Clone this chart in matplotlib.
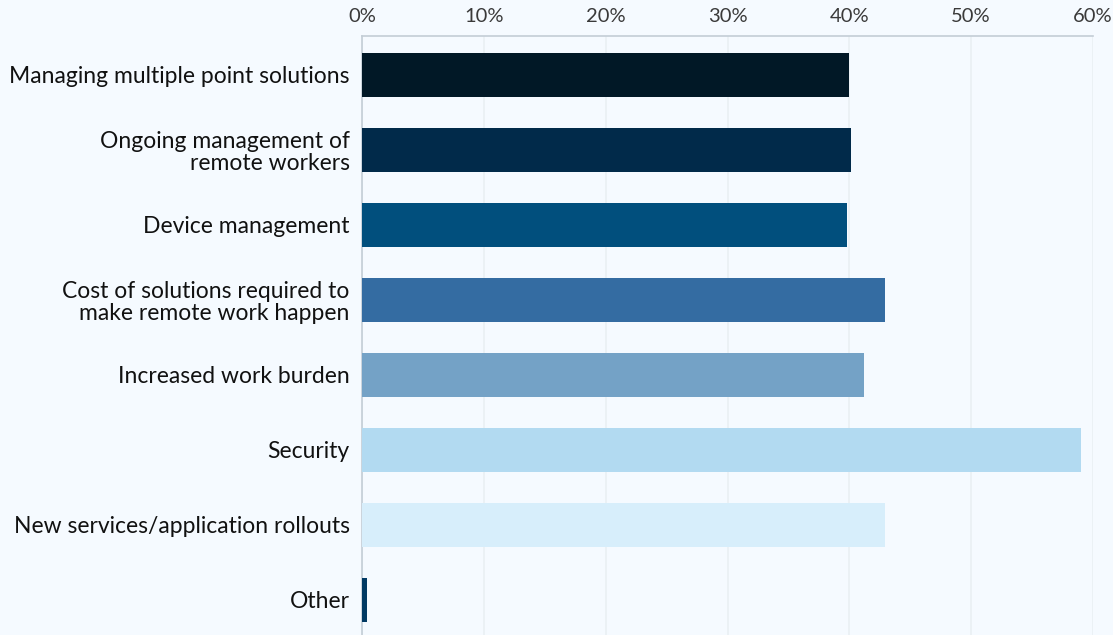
import numpy as np
import matplotlib.pyplot as plt
from matplotlib.ticker import FuncFormatter

# survey responses, share of respondents (%)
categories = [
    "Managing multiple point solutions",
    "Ongoing management of\nremote workers",
    "Device management",
    "Cost of solutions required to\nmake remote work happen",
    "Increased work burden",
    "Security",
    "New services/application rollouts",
    "Other",
]
values = [40.0, 40.1, 39.8, 42.9, 41.2, 59.0, 42.9, 0.4]
colors = ["#011826", "#012a4a", "#014f7d", "#346ca2", "#74a2c6",
          "#b2daf1", "#d7eefb", "#013a63"]

bg = "#f5faff"
plt.rcParams['font.family'] = ['Lato', 'DejaVu Sans']

fig = plt.figure(figsize=(11.13, 6.35), dpi=100, facecolor=bg)
ax = fig.add_axes([362 / 1113, 0, 731 / 1113, 1 - 36 / 635])
ax.set_facecolor(bg)

y = np.arange(len(categories))
ax.barh(y, values, height=0.59, color=colors, zorder=3)

ax.set_xlim(0, 60)
ax.set_ylim(7.47, -0.52)
ax.set_xticks(np.arange(0, 61, 10))
ax.xaxis.set_major_formatter(FuncFormatter(lambda v, p: f"{v:.0f}%"))
ax.xaxis.tick_top()
ax.tick_params(axis='x', length=0, pad=8, labelsize=14.5, labelcolor="#3a3a3a")
ax.set_yticks(y)
ax.set_yticklabels(categories, fontsize=16.5, color="#111111")
ax.tick_params(axis='y', length=0, pad=9)
for lab in ax.get_yticklabels():
    lab.set_multialignment('right')
    lab.set_linespacing(1.05)

ax.grid(axis='x', color="#eaf0f4", linewidth=1.2, zorder=0)
for side in ['right', 'bottom']:
    ax.spines[side].set_visible(False)
for side in ['top', 'left']:
    ax.spines[side].set_color("#c3cdd6")
    ax.spines[side].set_linewidth(1.2)

fig.savefig("out.png", dpi=100, facecolor=bg)
